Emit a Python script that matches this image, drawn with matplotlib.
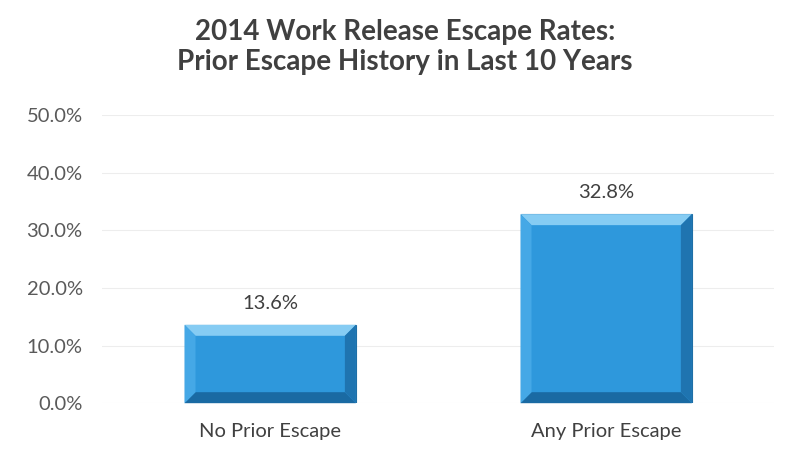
import matplotlib.pyplot as plt
import numpy as np
from matplotlib.patches import Polygon

categories = ["No Prior Escape", "Any Prior Escape"]
rates = [13.6, 32.8]
yticks = [0, 10, 20, 30, 40, 50]

plt.rcParams["font.family"] = ["Lato", "DejaVu Sans"]

fig = plt.figure(figsize=(7.86, 4.51), dpi=100)
ax = fig.add_axes([0.13, 0.106, 0.855, 0.639])

x = np.arange(len(categories))
bars = ax.bar(x, rates, width=0.51, color="#2e98dc", edgecolor="#1f6fa6",
              linewidth=0.8, zorder=2)

ax.set_xlim(-0.5, 1.5)
ax.set_ylim(0, 50)
ax.set_yticks(yticks)
ax.set_yticklabels([f"{v:.1f}%" for v in yticks], color="#5a5a5a", fontsize=14.5)
ax.set_xticks(x)
ax.set_xticklabels(categories, color="#404040", fontsize=14.5)
ax.tick_params(axis="y", length=0, pad=14)
ax.tick_params(axis="x", length=0, pad=14)
ax.grid(axis="y", color="#ededed", linewidth=0.8, zorder=0)
for s in ax.spines.values():
    s.set_visible(False)

for b, v in zip(bars, rates):
    ax.text(b.get_x() + b.get_width() / 2, v + 2.3, f"{v:.1f}%", ha="center",
            va="bottom", fontsize=14.5, color="#404040")

# bevel effect, drawn in display space from the bar geometry
fig.canvas.draw()
bev = 11
for b in bars:
    (x0, y0), (x1, y1) = ax.transData.transform(
        [(b.get_x(), 0), (b.get_x() + b.get_width(), b.get_height())])
    top = [(x0, y1), (x1, y1), (x1 - bev, y1 - bev), (x0 + bev, y1 - bev)]
    bot = [(x0, y0), (x1, y0), (x1 - bev, y0 + bev), (x0 + bev, y0 + bev)]
    left = [(x0, y0), (x0, y1), (x0 + bev, y1 - bev), (x0 + bev, y0 + bev)]
    right = [(x1, y0), (x1, y1), (x1 - bev, y1 - bev), (x1 - bev, y0 + bev)]
    for pts, col in [(top, "#86ccf3"), (bot, "#1a6aa3"), (left, "#45a8e6"), (right, "#1f74b0")]:
        fig.add_artist(Polygon(pts, closed=True, facecolor=col, edgecolor="none",
                               transform=None, zorder=3))

fig.text(0.515, 0.895, "2014 Work Release Escape Rates:\nPrior Escape History in Last 10 Years",
         ha="center", va="center", fontsize=20, fontweight="bold", color="#404040",
         linespacing=1.2)

fig.savefig("out.png", dpi=100, facecolor="white")
